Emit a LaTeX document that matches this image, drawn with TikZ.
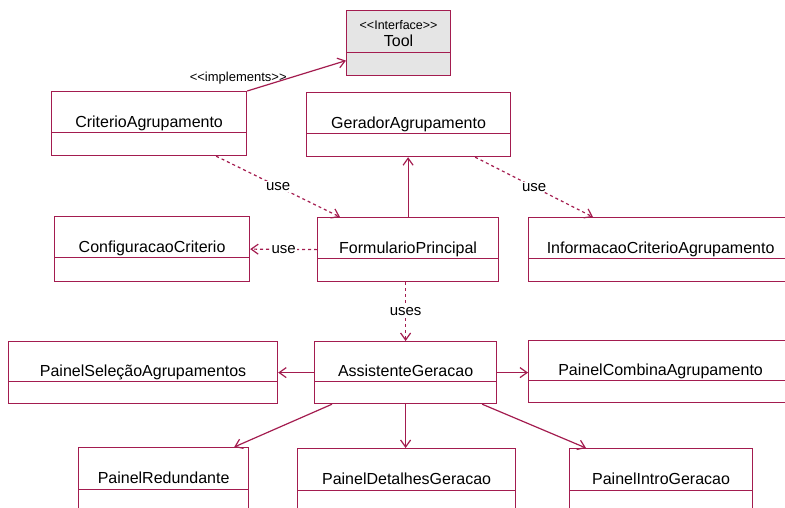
\documentclass[tikz,border=0pt]{standalone}
\usepackage{fontspec}
\setmainfont{Liberation Sans}
\usetikzlibrary{arrows.meta,calc}
\definecolor{LineClr}{rgb}{0.64,0.11,0.31}
\definecolor{ToolClr}{rgb}{0.9,0.9,0.9}
\newcommand{\stereo}[1]{\textless\kern0pt\textless#1\textgreater\kern0pt\textgreater}

\tikzset{
  klass/.style={draw=LineClr,line width=1.2pt,fill=white,anchor=north west,inner sep=0pt,
    minimum height=64pt,text height=11pt,text depth=4pt,font=\fontsize{16}{18}\selectfont,
    path picture={\draw[LineClr,line width=1.2pt]
      ([yshift=-#1]path picture bounding box.north west) -- ([yshift=-#1]path picture bounding box.north east);}},
  klass/.default=41pt,
  assoc/.style={draw=LineClr,line width=1.2pt,-{Straight Barb[length=7pt,width=10pt]}},
  dep/.style={assoc,dash pattern=on 3pt off 3pt},
  lbl/.style={fill=white,inner sep=1pt,text=black,font=\fontsize{15}{17}\selectfont}
}

\begin{document}
\begin{tikzpicture}[x=1pt,y=-1pt]
\clip (0,0) rectangle (785,507);

\node[klass=42pt,minimum width=104pt,minimum height=65pt,fill=ToolClr,
  label={[anchor=base,yshift=18pt,font=\fontsize{12.5}{14}\selectfont]center:\stereo{Interface}}] (tool) at (346,10) {Tool};

\node[klass,minimum width=195pt] (crit) at (51,91) {CriterioAgrupamento};
\node[klass,minimum width=204pt] (gerador) at (306,92) {GeradorAgrupamento};

\node[klass,minimum width=195pt,minimum height=65pt] (config) at (54,216) {ConfiguracaoCriterio};
\node[klass,minimum width=181pt] (form) at (317,217) {FormularioPrincipal};
\node[klass,minimum width=264pt] (info) at (528,217) {InformacaoCriterioAgrupamento};

\node[klass=40pt,minimum width=269pt,minimum height=62pt] (selecao) at (8,341) {PainelSeleçãoAgrupamentos};
\node[klass=40pt,minimum width=182pt,minimum height=62pt] (assist) at (314,341) {AssistenteGeracao};
\node[klass=40pt,minimum width=264pt,minimum height=62pt] (combina) at (528,340) {PainelCombinaAgrupamento};

\node[klass=42pt,minimum width=170pt] (redund) at (78,447) {PainelRedundante};
\node[klass=42pt,minimum width=218pt] (detalhes) at (297,448) {PainelDetalhesGeracao};
\node[klass=42pt,minimum width=183pt] (intro) at (569,448) {PainelIntroGeracao};

\draw[assoc] (crit.north east) -- ([yshift=-17.5pt]tool.west)
  node[at start,anchor=base,xshift=-9pt,yshift=10pt,text=black,font=\fontsize{13}{15}\selectfont]
  {\stereo{implements}};

\draw[dep] ($(crit.south east)+(-31,0)$) -- ($(form.north west)+(23,0)$) node[lbl,midway] {use};
\draw[dep] ($(gerador.south east)+(-36,0)$) -- ($(info.north west)+(65,0)$) node[lbl,midway] {use};
\draw[assoc] (form.north) -- (form.north |- gerador.south);
\draw[dep] (form.west) -- (config.east) node[lbl,midway] {use};
\draw[dep] (assist.north |- form.south) -- (assist.north) node[lbl,midway] {uses};

\draw[assoc] (assist.west) -- (selecao.east);
\draw[assoc] (assist.east) -- (assist.east -| combina.west);
\draw[assoc] ($(assist.south west)+(18,0)$) -- ($(redund.north east)+(-15,0)$);
\draw[assoc] (assist.south) -- (assist.south |- detalhes.north);
\draw[assoc] ($(assist.south east)+(-15,0)$) -- ($(intro.north west)+(17,0)$);
\end{tikzpicture}
\end{document}
